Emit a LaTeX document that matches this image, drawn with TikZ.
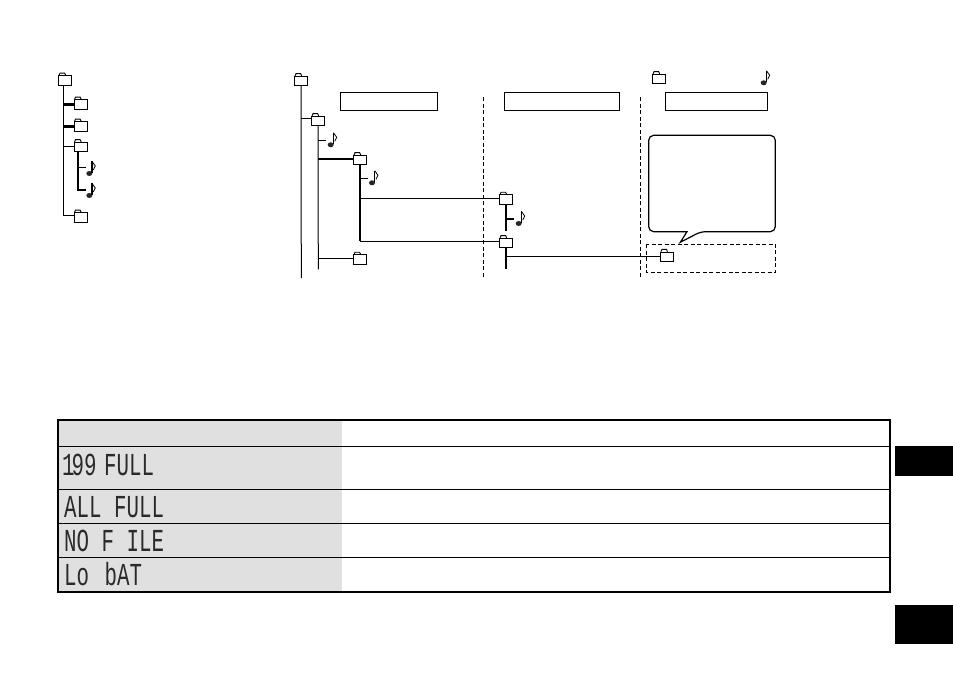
\documentclass[tikz,border=0pt]{standalone}
\usepackage{fontspec}
\usepackage{tikz}

\newfontfamily\lcdfont[FakeStretch=0.65]{Liberation Mono}
\definecolor{lcdgray}{HTML}{2A2A2A}
\definecolor{headgray}{HTML}{E0E0E0}

% folder icon: body node plus tab
\newcommand{\folder}[3][]{
    \node[folder, #1] (#2) at (#3) {};
    \draw[line width=0.9pt] ([xshift=1pt]#2.north west) -- ++(1,-2.2) -- ++(4.6,0) -- ++(1,2.2);
}
% note icon: head, stem and flag, name is the coordinate of the head
\newcommand{\noteicon}[2]{
    \coordinate (#1) at (#2);
    \fill[black!85] (#1) ++(0,0.5) ellipse [x radius=3, y radius=2.5];
    \draw[line width=1.3pt] (#1) ++(2.6,0) -- ++(0,-11.5);
    \draw[line width=0.8pt] (#1) ++(2.8,-11.5) -- ++(3.2,4.5) -- ++(-2,4);
}

\tikzset{
    folder/.style={draw, line width=0.9pt, fill=white, inner sep=0pt, minimum width=13pt, minimum height=9.5pt},
    labelbox/.style={draw, line width=1pt, inner sep=0pt, minimum height=18pt},
    thinline/.style={line width=1pt},
    boldline/.style={line width=2.2pt},
    midline/.style={line width=1.4pt},
    split/.style={line width=1pt, dash pattern=on 4pt off 2.5pt},
    lcd/.style={anchor=base west, inner sep=0pt, text=lcdgray, font=\lcdfont\fontsize{32}{32}\selectfont},
    tabmark/.style={fill=black, inner sep=0pt, minimum width=58pt},
}

\begin{document}
\begin{tikzpicture}[x=1pt, y=-1pt]

    \useasboundingbox (0,0) rectangle (953,676);

    % left tree
    \folder{rootL}{65,80.5}
    \folder{dirLa}{80.5,104.5}
    \folder{dirLb}{80.5,126.5}
    \folder{dirLc}{80.5,147}
    \folder{dirLd}{80.5,217.5}
    \noteicon{noteLa}{89.3,173}
    \noteicon{noteLb}{89.3,195}

    \draw[thinline] ([xshift=-1.5pt]rootL.south) |- ([yshift=2pt]dirLd.west);
    \draw[boldline] (63.5,104.5) -- (dirLa.west);
    \draw[boldline] (63.5,126.5) -- (dirLb.west);
    \draw[thinline] (63.5,147) -- (dirLc.west);
    \draw[boldline] ([xshift=-2.5pt]dirLc.south) |- ([shift={(-3pt,5pt)}]noteLb);
    \draw[thinline] (78,168) -- ([shift={(-3pt,5pt)}]noteLa);

    % middle tree
    \folder{rootM}{301,81}
    \folder{dirA}{318,121}
    \folder{dirB}{360,160}
    \folder{dirC}{360,259.7}
    \folder{dirD}{506,199.7}
    \folder{dirE}{506,243}
    \folder[line width=1.2pt]{dirF}{667,257}
    \noteicon{noteA}{330.7,144.3}
    \noteicon{noteB}{372,182.3}
    \noteicon{noteD}{518.7,223}
    \coordinate (endM) at (301.3,278);
    \coordinate (endA) at (318.3,269.3);

    \draw[thinline] (rootM.south) -- (endM);
    \draw[thinline] (301.3,119) -- ([yshift=2pt]dirA.west);
    \draw[thinline] (dirA.south) -- (endA);
    \draw[thinline] (318.3,140.3) -- ([shift={(-4.7pt,4pt)}]noteA);
    \draw[midline, line width=2pt] (318.3,159) -- ([yshift=1pt]dirB.west);
    \draw[thinline] (318.3,258.3) -- ([yshift=1.4pt]dirC.west);
    \draw[line width=2.4pt] (dirB.south) -- (360,241.3);
    \draw[thinline] (360,178.3) -- ([shift={(-4.3pt,4pt)}]noteB);
    \draw[thinline] (360,198.3) -- ([yshift=1.4pt]dirD.west);
    \draw[midline] (360,241.3) -- ([yshift=1.7pt]dirE.west);
    \draw[boldline] (dirD.south) -- (506,230.7);
    \draw[boldline] (506,218.7) -- ([shift={(-4.7pt,4.3pt)}]noteD);
    \draw[boldline] (dirE.south) -- (506,269.3);
    \draw[thinline] (506,257) -- (dirF.west);

    % header boxes
    \node[labelbox, minimum width=96.4pt, anchor=north west] (boxA) at (340.3,92.3) {};
    \node[labelbox, minimum width=115pt, anchor=north west] (boxB) at (504.3,92.3) {};
    \node[labelbox, minimum width=102pt, anchor=north west] (boxC) at (665.3,92.3) {};

    % separators
    \draw[split] (483.3,97.3) -- (483.3,278);
    \draw[split] (640.3,97.3) -- (640.3,278);

    % right column
    \folder{rootR}{659,79}
    \noteicon{noteR}{763.7,82.3}
    \draw[line width=1.2pt, rounded corners=5pt] (687,231.7) -- (648.7,231.7) -- (648.7,135.3) -- (775.3,135.3) -- (775.3,231.7) -- (700.7,231.7) [sharp corners] -- (680.3,242.3) -- cycle;
    \draw[split] (646.3,244.3) rectangle (775.7,272.3);

    % table
    \fill[headgray] (58.3,419.7) rectangle (342,591.7);
    \draw[line width=1.2pt] (58.3,446.3) -- (890,446.3);
    \draw[line width=1.2pt] (58.3,489.3) -- (890,489.3);
    \draw[line width=1.2pt] (58.3,523.3) -- (890,523.3);
    \draw[line width=1.2pt] (58.3,557.3) -- (890,557.3);
    \draw[line width=2.2pt] (58.3,419.7) rectangle (890,591.7);

    \node[lcd] (msgA) at (62,475) {1\kern-3pt 99\kern-5pt{} FULL};
    \node[lcd] (msgB) at (64,517) {ALL FULL};
    \node[lcd] (msgC) at (64,551) {NO F ILE};
    \node[lcd] (msgD) at (64,585) {Lo\kern3pt{} bAT};

    % side tabs
    \node[tabmark, minimum height=30pt, anchor=north west] (tabA) at (895,446) {};
    \node[tabmark, minimum height=39pt, anchor=north west] (tabB) at (895,605) {};

\end{tikzpicture}
\end{document}
